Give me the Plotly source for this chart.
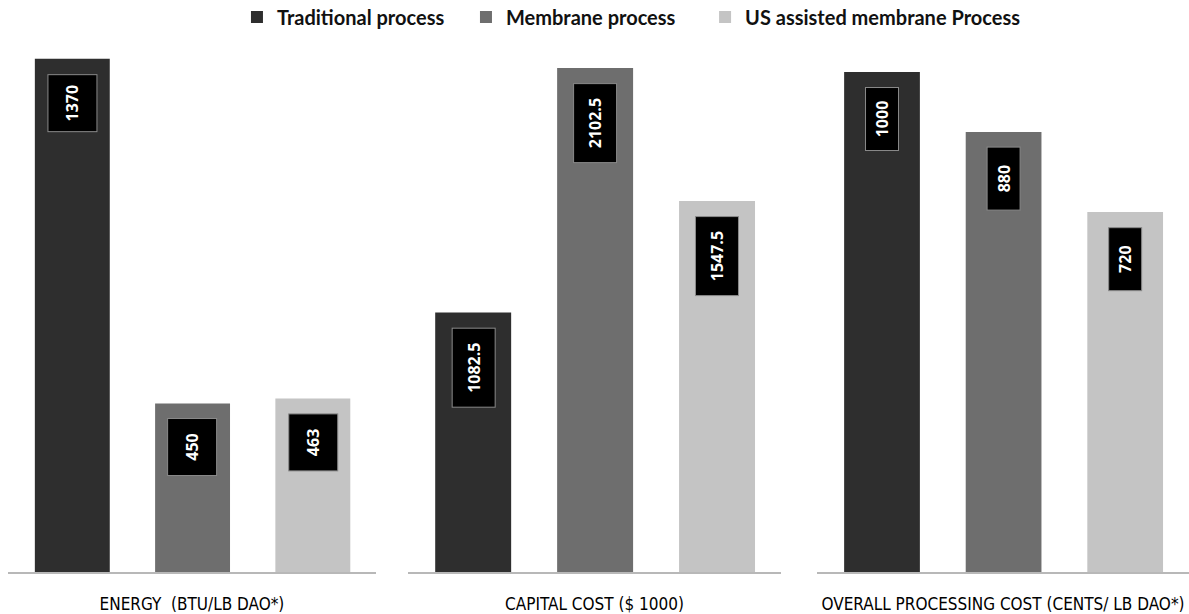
import plotly.graph_objects as go

# ---- data ----
series = ["Traditional process", "Membrane process", "US assisted membrane Process"]
panels = ["ENERGY  (BTU/LB DAO*)", "CAPITAL COST ($ 1000)", "OVERALL PROCESSING COST (CENTS/ LB DAO*)"]
energy = [1370, 450, 463]
capital_cost = [1082.5, 2102.5, 1547.5]
processing_cost = [1000, 880, 720]
values = [energy, capital_cost, processing_cost]

# ---- styles ----
colors = ["#2e2e2e", "#6e6e6e", "#c4c4c4"]
domains = [[0.0067, 0.3162], [0.3431, 0.6569], [0.6871, 1.0]]
y_ranges = [[0, 1415], [0, 2211], [0, 1060]]
x_range = [-0.535, 2.525]
box_sizes = [(48, 56), (42, 78), (32, 62)]  # screen width, height of label boxes
legend_x = [0.1993, 0.3919, 0.5930]
legend_names = ["legend", "legend2", "legend3"]

fig = go.Figure()
for p, (pname, vals) in enumerate(zip(panels, values)):
    ax = "" if p == 0 else str(p + 1)
    for s, (sname, v) in enumerate(zip(series, vals)):
        fig.add_trace(go.Bar(
            x=[sname], y=[v], name=sname,
            marker=dict(color=colors[s], line=dict(width=0)),
            xaxis="x" + ax, yaxis="y" + ax,
            legendgroup=sname, showlegend=(p == 0), legend=legend_names[s],
            hoverinfo="skip",
        ))
        bw, bh = box_sizes[p]
        fig.add_annotation(
            x=sname, y=v, xref="x" + ax, yref="y" + ax,
            text=f"<b>{v:g}</b>", textangle=-90, showarrow=False,
            yanchor="top", yshift=-15,
            width=bh, height=bw, borderpad=0,
            bgcolor="black", bordercolor="#8a8a8a", borderwidth=1,
            font=dict(color="white", size=16, family="Open Sans, DejaVu Sans, sans-serif"),
        )
    fig.layout["xaxis" + ax] = dict(
        domain=domains[p], anchor="y" + ax, showticklabels=False, showgrid=False,
        type="category", categoryorder="array", categoryarray=series, range=x_range,
        showline=True, linecolor="#b8b8b8", linewidth=2, zeroline=False,
        title=dict(text=pname, standoff=25,
                   font=dict(size=17, color="#000000",
                             family="Liberation Sans Narrow, Arial Narrow, DejaVu Sans Condensed, sans-serif")),
        fixedrange=True,
    )
    fig.layout["yaxis" + ax] = dict(
        anchor="x" + ax, range=y_ranges[p], visible=False, fixedrange=True,
    )

legend_font = dict(size=20, color="#111111", family="Lato, Open Sans, sans-serif", weight="bold")
layout_legends = {}
for s, lname in enumerate(legend_names):
    layout_legends[lname] = dict(
        orientation="h", x=legend_x[s], xanchor="left", y=1.047, yanchor="middle",
        font=legend_font, itemwidth=30, bgcolor="rgba(0,0,0,0)",
    )

fig.update_layout(
    width=1189, height=614,
    margin=dict(l=0, r=0, t=42, b=42, autoexpand=False),
    barmode="overlay", bargap=0.377,
    plot_bgcolor="white", paper_bgcolor="white",
    showlegend=True,
    **layout_legends,
)

fig.write_html("out.html", config={"displayModeBar": False, "staticPlot": True},
               post_script="document.body.style.margin='0';document.body.style.overflow='hidden';")
